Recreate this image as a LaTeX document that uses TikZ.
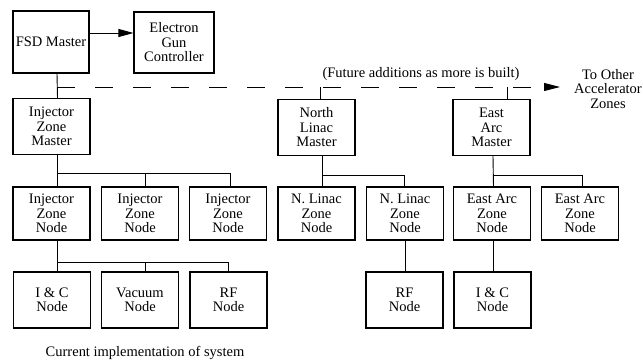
\documentclass[tikz,border=0pt]{standalone}
\usepackage{fontspec}
\setmainfont{Liberation Serif}
\usetikzlibrary{arrows.meta}
\begin{document}
\begin{tikzpicture}[x=1pt,y=-1pt,
  txt/.style={font=\fontsize{14.5}{14.5}\selectfont},
  box/.style={draw, line width=1.1pt, minimum width=77pt, inner sep=0pt, align=center, txt},
  master/.style={box, minimum height=56pt},
  zone/.style={box, minimum height=53pt},
  leaf/.style={box, minimum height=56pt},
  wire/.style={line width=0.9pt},
  lbl/.style={inner sep=0pt, align=center, txt}]
\useasboundingbox (0,0) rectangle (643,363);

% top level
\node[box, minimum width=76pt, minimum height=62pt] (fsd) at (51,42) {FSD Master};
\node[box, minimum width=80pt, minimum height=61pt] (egc) at (174,42.5) {Electron\\Gun\\Controller};

% zone masters
\node[master] (izm) at (51.5,126.5) {Injector\\Zone\\Master};
\node[master] (nlm) at (316.5,127.5) {North\\Linac\\Master};
\node[master] (eam) at (491.5,127.5) {East\\Arc\\Master};

% zone nodes
\node[zone] (izn1) at (51.5,213.5) {Injector\\Zone\\Node};
\node[zone] (izn2) at (140,213.5) {Injector\\Zone\\Node};
\node[zone] (izn3) at (228,213.5) {Injector\\Zone\\Node};
\node[zone] (nln1) at (316.5,213.5) {N. Linac\\Zone\\Node};
\node[zone] (nln2) at (405,213.5) {N. Linac\\Zone\\Node};
\node[zone] (ean1) at (492,213.5) {East Arc\\Zone\\Node};
\node[zone] (ean2) at (580,213.5) {East Arc\\Zone\\Node};

% leaf nodes
\node[leaf] (ic1) at (52,300) {I \& C\\Node};
\node[leaf] (vac) at (140,300) {Vacuum\\Node};
\node[leaf] (rf1) at (228.5,300) {RF\\Node};
\node[leaf] (rf2) at (404.5,300) {RF\\Node};
\node[leaf] (ic2) at (492.5,300) {I \& C\\Node};

% texts
\node[lbl] (future) at (421,74) {(Future additions as more is built)};
\node[lbl] (other) at (608,89) {To Other\\Accelerator\\Zones};
\node[lbl] (caption) at (145,353) {Current implementation of system};

% helper coordinates for bus rows and tap points
\coordinate (gunrow) at (0,33);
\coordinate (expand) at (0,87);
\coordinate (tip) at (560,87);
\coordinate (busI) at (0,173);
\coordinate (busN) at (0,175);
\coordinate (busL) at (0,262);

% FSD master to gun controller
\draw[wire, -{Triangle[length=15pt,width=8pt]}] (fsd.east |- gunrow) -- (egc.west |- gunrow);

% trunk from FSD master down to injector zone
\draw[wire] ([xshift=6pt]fsd.south) -- ([xshift=6pt]izm.north);

% expansion line to further zones
\draw[wire, dash pattern=on 17.5pt off 20.5pt, -{Triangle[length=16pt,width=8pt]}]
  ([xshift=6pt]fsd.south |- expand) -- (tip);
\draw[wire] ([xshift=4pt]nlm.north |- expand) -- ([xshift=4pt]nlm.north);
\draw[wire] ([xshift=16pt]eam.north |- expand) -- ([xshift=16pt]eam.north);

% injector zone master to its zone nodes
\draw[wire] ([xshift=5.5pt]izm.south) -- ([xshift=5.5pt]izn1.north);
\draw[wire] ([xshift=5.5pt]izm.south |- busI) -| ([xshift=5pt]izn2.north);
\draw[wire] ([xshift=5pt]izn2.north |- busI) -| ([xshift=2pt]izn3.north);

% north linac master to its zone nodes
\draw[wire] ([xshift=5.5pt]nlm.south) -- ([xshift=5.5pt]nln1.north);
\draw[wire] ([xshift=5.5pt]nlm.south |- busN) -| ([xshift=-1pt]nln2.north);

% east arc master to its zone nodes
\draw[wire] ([xshift=1.5pt]eam.south) -- ([xshift=1.5pt]ean1.north);
\draw[wire] ([xshift=1.5pt]eam.south |- busN) -| ([xshift=2pt]ean2.north);

% injector zone node to its devices
\draw[wire] ([xshift=5.5pt]izn1.south) -- ([xshift=5pt]ic1.north);
\draw[wire] ([xshift=5pt]ic1.north |- busL) -| ([xshift=5pt]vac.north);
\draw[wire] ([xshift=5pt]vac.north |- busL) -| ([xshift=-0.5pt]rf1.north);

% single devices below north linac and east arc nodes
\draw[wire] ([xshift=0.5pt]rf2.north |- nln2.south) -- ([xshift=0.5pt]rf2.north);
\draw[wire] ([xshift=0.5pt]ic2.north |- ean1.south) -- ([xshift=0.5pt]ic2.north);
\end{tikzpicture}
\end{document}
